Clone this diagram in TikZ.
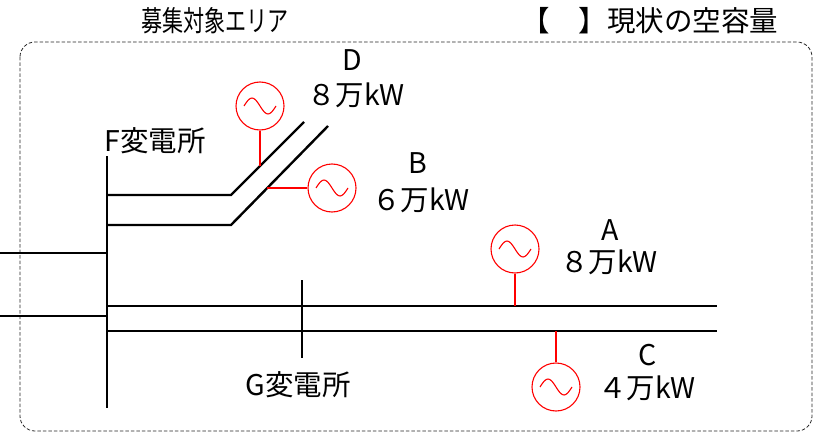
\documentclass[tikz,border=0pt]{standalone}
\usepackage{fontspec}
\setmainfont{Noto Sans CJK JP}
\usepackage{graphicx}
\tikzset{
  bus/.style={line width=2.4pt},
  tap/.style={red, line width=1.3pt},
  gen/.style={circle, draw=red, line width=1.1pt, minimum size=48pt, inner sep=0pt,
    path picture={\draw[red, line width=1.1pt] (path picture bounding box.center) ++(-16pt,0pt)
      sin ++(8pt,8pt) cos ++(8pt,-8pt) sin ++(8pt,-8pt) cos ++(8pt,8pt);}},
  lbl/.style={font=\fontsize{28.5}{32}\selectfont, inner sep=0pt}
}
\begin{document}
\begin{tikzpicture}[x=1pt,y=-1pt]
    \useasboundingbox (0,0) rectangle (821,433);
    \draw[black!85, dash pattern=on 3.5pt off 2pt, line width=0.8pt, rounded corners=15pt] (20,42) rectangle (812,431);
    \node[lbl] (title) at (215,21) {\scalebox{0.74}[1]{募集対象エリア}};
    \node[lbl] (note) at (650,21) {【　】現状の空容量};
    \draw[bus] (107,156) -- (107,408);
    \draw[bus] (0,253) -- (107,253);
    \draw[bus] (0,316) -- (107,316);
    \draw[bus] (107,195) -- (231,195) -- (304,122);
    \draw[bus] (107,225) -- (231,225) -- (328,126);
    \draw[bus] (107,306) -- (717,306);
    \draw[bus] (107,331) -- (717,331);
    \draw[bus] (302,280) -- (302,358);
    \node[lbl] (F) at (155,141) {F変電所};
    \node[lbl] (G) at (298,385) {G変電所};
    \coordinate (tD) at (260,166);
    \coordinate (tB) at (267,188);
    \coordinate (tA) at (515,306);
    \coordinate (tC) at (556,331);
    \node[gen] (gD) at (260,106) {};
    \node[gen] (gB) at (332,188) {};
    \node[gen] (gA) at (515,249) {};
    \node[gen] (gC) at (556,387) {};
    \draw[tap] (gD) -- (tD);
    \draw[tap] (gB) -- (tB);
    \draw[tap] (gA) -- (tA);
    \draw[tap] (gC) -- (tC);
    \node[lbl] (D) at (352,60) {D};
    \node[lbl] (Dkw) at (356,95) {８万kW};
    \node[lbl] (B) at (418,163) {B};
    \node[lbl] (Bkw) at (421,200) {６万kW};
    \node[lbl] (A) at (610,230) {A};
    \node[lbl] (Akw) at (609,262) {８万kW};
    \node[lbl] (C) at (648,355) {C};
    \node[lbl] (Ckw) at (647,388) {４万kW};
  \end{tikzpicture}
\end{document}
